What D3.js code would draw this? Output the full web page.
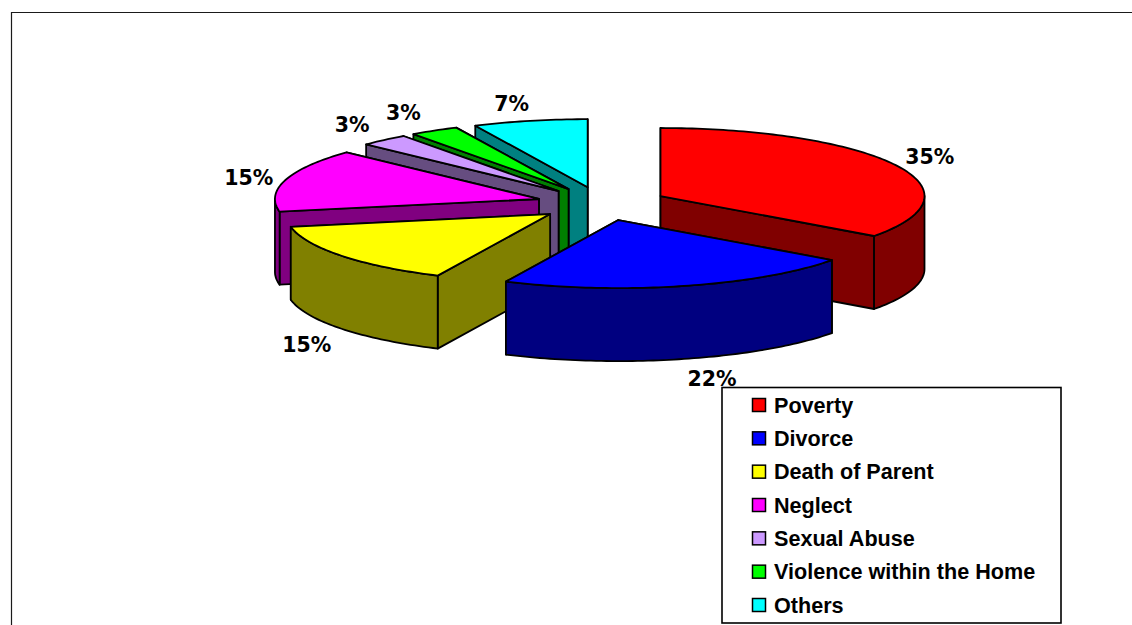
<!DOCTYPE html>
<html>
<head>
<meta charset="utf-8">
<script src="https://cdnjs.cloudflare.com/ajax/libs/d3/7.8.5/d3.min.js"></script>
<style>
  html, body { margin: 0; padding: 0; background: #fff; overflow: hidden; }
  svg { display: block; }
  .pct { font: bold 20.5px "DejaVu Sans", Verdana, sans-serif; fill: #000; text-anchor: middle; dominant-baseline: central; }
  .key { font: bold 21.6px "Liberation Sans", Arial, sans-serif; fill: #000; dominant-baseline: central; }
</style>
</head>
<body>
<svg id="chart" width="1132" height="625"></svg>
<script>
// Reasons for children being in care, share of cases in percent
const categories = ["Poverty", "Divorce", "Death of Parent", "Neglect", "Sexual Abuse", "Violence within the Home", "Others"];
const shares = [35, 22, 15, 15, 3, 3, 7];
const topColours = ["#ff0000", "#0000ff", "#ffff00", "#ff00ff", "#cc99ff", "#00ff00", "#00ffff"];
const wallColours = ["#800000", "#000080", "#808000", "#800080", "#664d80", "#008000", "#008080"];

// Tilted pie geometry
const centre = { x: 602, y: 203.7 };
const radius = { x: 264, y: 68 };
const explode = 0.2487;
const depth = 73;
const strokeW = 1.8;

// Label offsets from the point just beyond each slice's rim
const labelReach = 1.2;
const labelNudge = [[-13, -2], [15, 80], [7, 81], [14, 2], [3, -5], [-4, -6], [-7, -4]];

// Back slices are painted first so nearer ones overlap them
const paintOrder = [6, 5, 4, 3, 2, 0, 1];

const svg = d3.select("#chart");
const arcs = d3.pie().sort(null).startAngle(0).endAngle(2 * Math.PI)(shares);
const pathOf = d3.line().x(p => p[0]).y(p => p[1]);

// Chart-area frame, open on the right and bottom
svg.append("path")
  .attr("d", pathOf([[11.5, 625], [11.5, 12.5], [1132, 12.5]]))
  .attr("fill", "none").attr("stroke", "#1a1a1a").attr("stroke-width", 1.2);

const apexOf = a => {
  const mid = (a.startAngle + a.endAngle) / 2;
  return [centre.x + explode * radius.x * Math.sin(mid), centre.y - explode * radius.y * Math.cos(mid)];
};
const rim = (apex, t, drop = 0) => [apex[0] + radius.x * Math.sin(t), apex[1] - radius.y * Math.cos(t) + drop];
const sweep = (apex, t0, t1, drop = 0) => {
  const n = Math.max(2, Math.ceil((t1 - t0) / 0.02));
  return d3.range(n + 1).map(i => rim(apex, t0 + (t1 - t0) * i / n, drop));
};

const slices = svg.append("g")
  .attr("stroke", "#000").attr("stroke-width", strokeW).attr("stroke-linejoin", "round");

paintOrder.forEach(i => {
  const a = arcs[i], apex = apexOf(a);
  const g = slices.append("g");
  const wall = wallColours[i];

  // Cut faces: the one turned away from the viewer goes down first
  const face = t => {
    const r = rim(apex, t);
    return pathOf([apex, r, [r[0], r[1] + depth], [apex[0], apex[1] + depth]]) + "Z";
  };
  const facing = Math.cos(a.endAngle) < Math.cos(a.startAngle);
  const order = facing ? [a.startAngle, a.endAngle] : [a.endAngle, a.startAngle];
  order.forEach(t => g.append("path").attr("d", face(t)).attr("fill", wall));

  // Rim wall, only where it faces forward
  const t0 = Math.max(a.startAngle, Math.PI / 2), t1 = Math.min(a.endAngle, 3 * Math.PI / 2);
  if (t1 > t0) {
    const upper = sweep(apex, t0, t1), lower = sweep(apex, t0, t1, depth).reverse();
    g.append("path").attr("d", pathOf(upper.concat(lower)) + "Z").attr("fill", wall);
  }

  // Top face
  g.append("path")
    .attr("d", pathOf([apex].concat(sweep(apex, a.startAngle, a.endAngle))) + "Z")
    .attr("fill", topColours[i]);
});

// Percentage labels
svg.append("g").selectAll("text").data(arcs).join("text")
  .attr("class", "pct")
  .attr("x", (a, i) => {
    const mid = (a.startAngle + a.endAngle) / 2;
    return apexOf(a)[0] + labelReach * radius.x * Math.sin(mid) + labelNudge[i][0];
  })
  .attr("y", (a, i) => {
    const mid = (a.startAngle + a.endAngle) / 2;
    return apexOf(a)[1] - labelReach * radius.y * Math.cos(mid) + labelNudge[i][1];
  })
  .text(a => a.data + "%");

// Legend box, sits above the labels
const legend = svg.append("g");
legend.append("rect")
  .attr("x", 722).attr("y", 387.5).attr("width", 339).attr("height", 235.5)
  .attr("fill", "#fff").attr("stroke", "#000").attr("stroke-width", 1.6);

const rowY = d3.scalePoint().domain(categories).range([405, 605]);
const rows = legend.selectAll("g").data(categories).join("g")
  .attr("transform", d => `translate(0,${rowY(d)})`);
rows.append("rect")
  .attr("x", 752.5).attr("y", -6.5).attr("width", 13).attr("height", 13)
  .attr("fill", (d, i) => topColours[i])
  .attr("stroke", "#000").attr("stroke-width", 1.5);
rows.append("text")
  .attr("class", "key").attr("x", 774).attr("y", 0)
  .text(d => d);
</script>
</body>
</html>
